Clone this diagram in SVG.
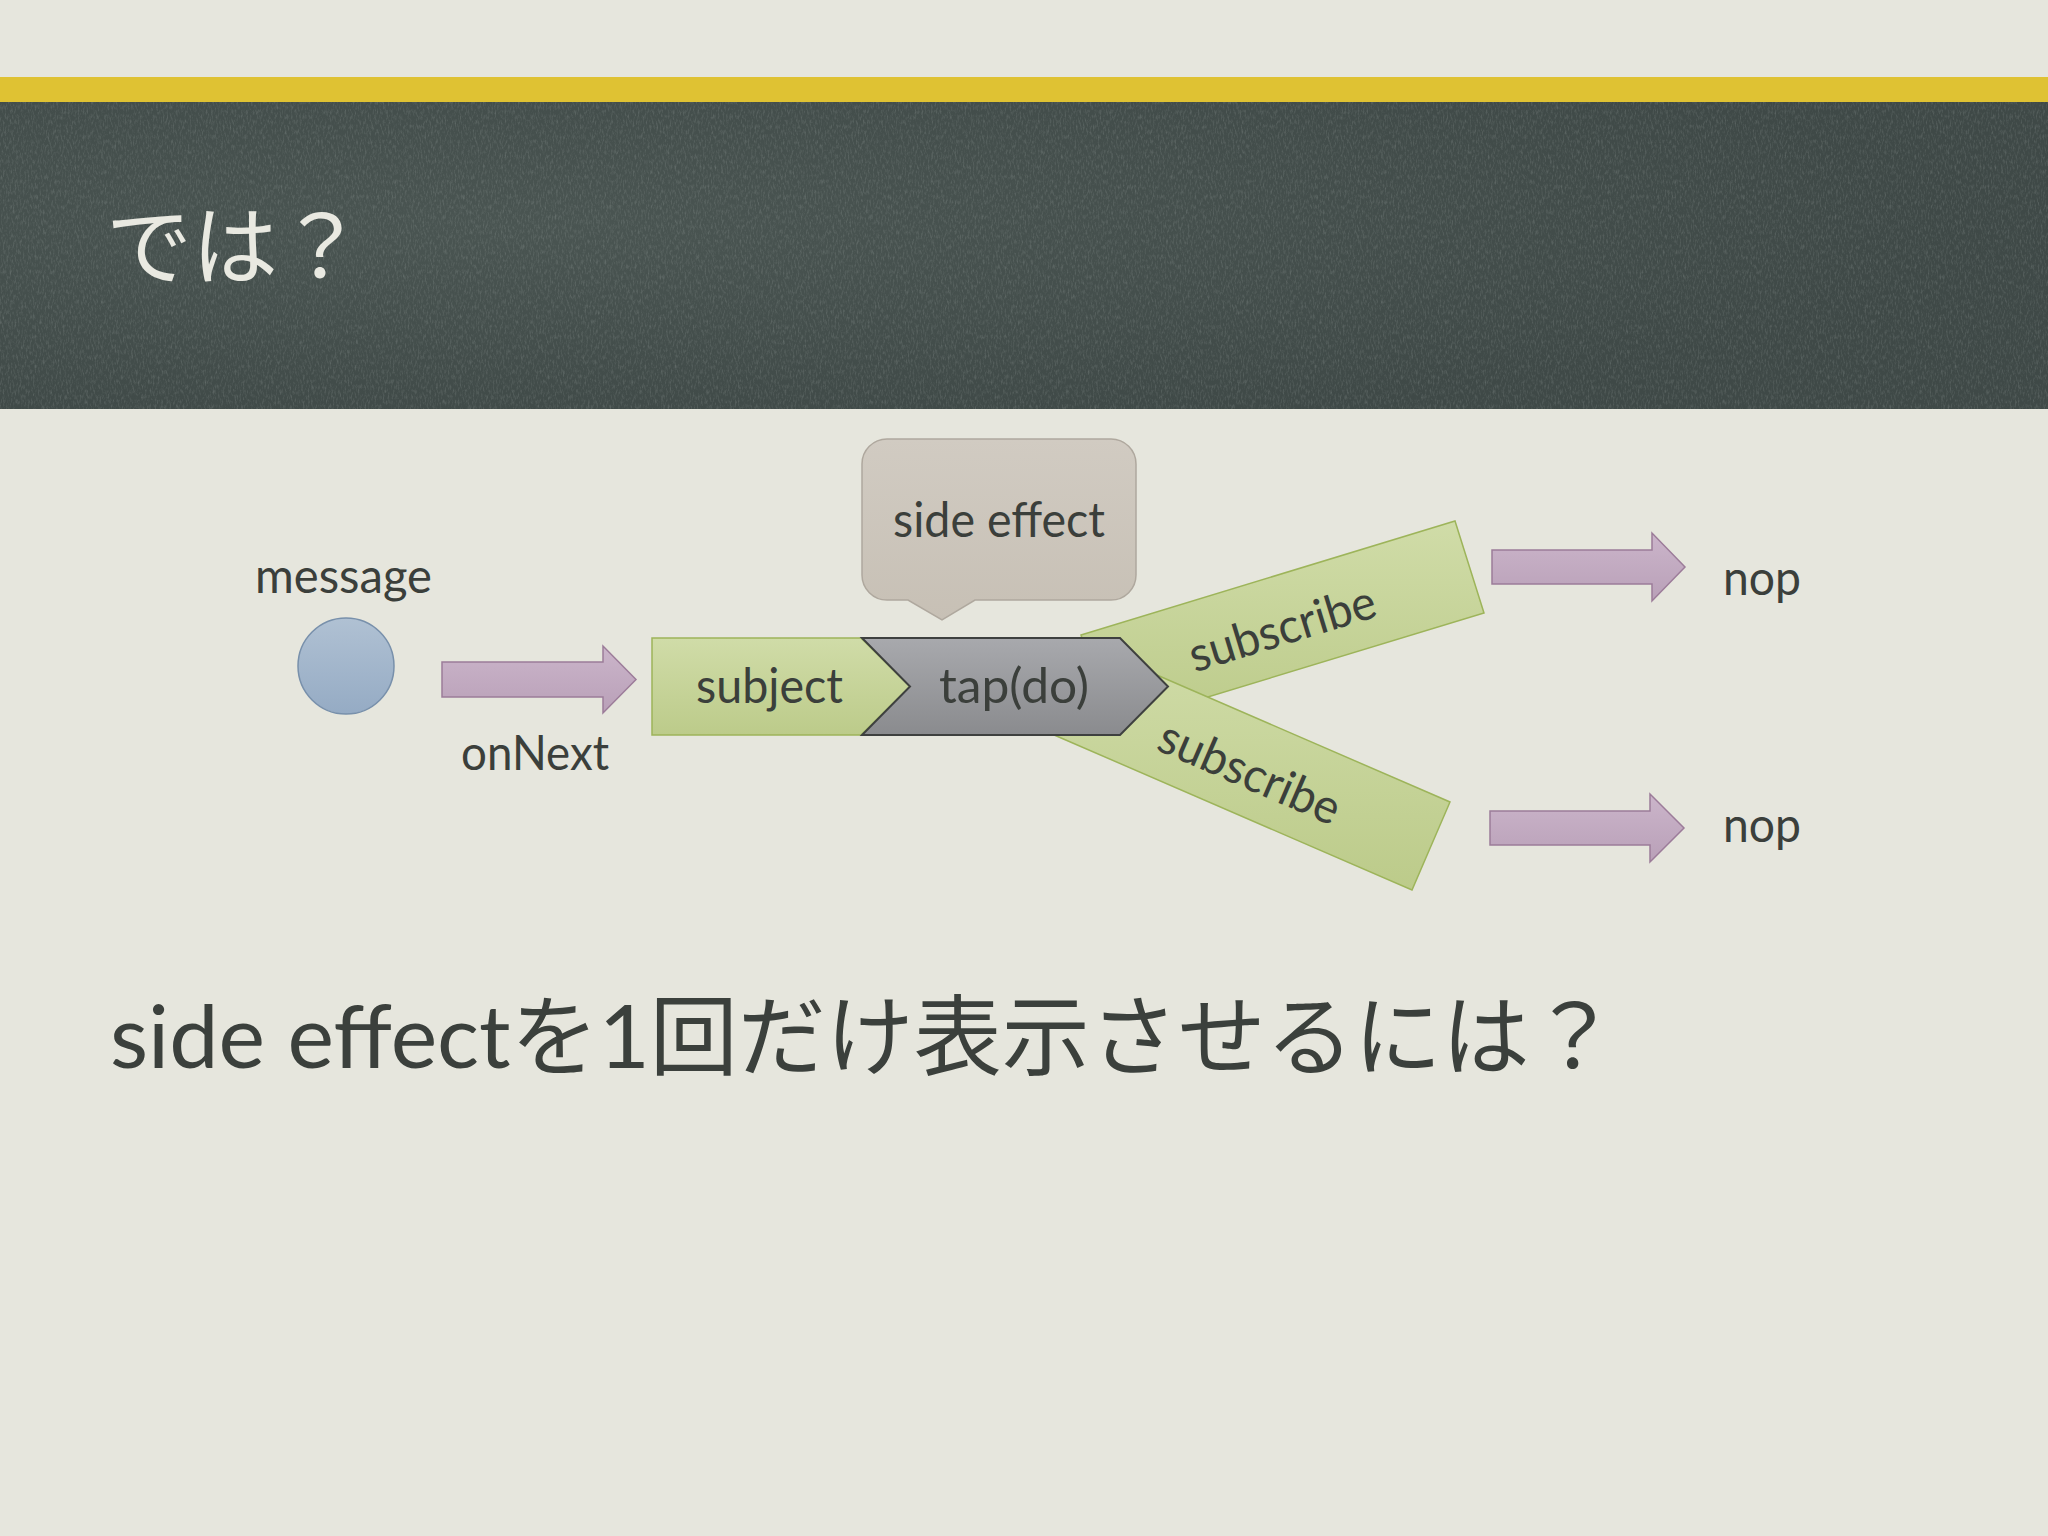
<svg xmlns="http://www.w3.org/2000/svg" width="2048" height="1536" viewBox="0 0 2048 1536">
<defs>
<style>
.lbl{font-family:Lato,"Noto Sans",sans-serif;font-size:48px;fill:#3b3f3b}
.pink{fill:url(#gPink);stroke:#9c7c99;stroke-width:1.5}
.green{fill:url(#gGreen);stroke:#9db45a;stroke-width:1.5}
</style>
<linearGradient id="gPink" x1="0" y1="0" x2="0" y2="1"><stop offset="0" stop-color="#cbb5ca"/><stop offset="1" stop-color="#b9a0b8"/></linearGradient>
<linearGradient id="gGreen" x1="0" y1="0" x2="0" y2="1"><stop offset="0" stop-color="#d0dca8"/><stop offset="1" stop-color="#bccb8a"/></linearGradient>
<linearGradient id="gGray" x1="0" y1="0" x2="0" y2="1"><stop offset="0" stop-color="#a8a9ad"/><stop offset="1" stop-color="#8a8b8e"/></linearGradient>
<linearGradient id="gCall" x1="0" y1="0" x2="0" y2="1"><stop offset="0" stop-color="#d1cbc2"/><stop offset="1" stop-color="#c7c0b5"/></linearGradient>
<linearGradient id="gBlue" x1="0" y1="0" x2="0" y2="1"><stop offset="0" stop-color="#b0c1d3"/><stop offset="1" stop-color="#95abc4"/></linearGradient>
<radialGradient id="gBoard" cx="0.25" cy="0.4" r="0.7"><stop offset="0" stop-color="#4a5552"/><stop offset="1" stop-color="#3f4947"/></radialGradient>
<filter id="chalk" x="0" y="0" width="100%" height="100%">
<feTurbulence type="fractalNoise" baseFrequency="0.6 0.2" numOctaves="3" seed="7"/>
<feColorMatrix type="matrix" values="0 0 0 0 0.85 0 0 0 0 0.9 0 0 0 0 0.88 1.1 0 0 0 -0.5"/>
</filter>
</defs>
<rect width="2048" height="1536" fill="#e6e6dd"/>
<g id="header">
<rect x="0" y="77" width="2048" height="25" fill="#dfc233"/>
<rect x="0" y="102" width="2048" height="307" fill="url(#gBoard)"/>
<rect x="0" y="102" width="2048" height="307" filter="url(#chalk)" opacity="0.3"/>
<text x="106" y="278" font-family="'Noto Sans CJK JP',sans-serif" font-size="86" fill="#e9e9e1">では？</text>
</g>
<g id="connectors">
<polygon class="pink" points="442,662 603,662 603,646 636,679.5 603,713 603,697 442,697"/>
<polygon class="pink" points="1492,550 1652,550 1652,533 1685,567 1652,601 1652,584 1492,584"/>
<polygon class="pink" points="1490,811 1650,811 1650,794 1684,828 1650,862 1650,845 1490,845"/>
</g>
<g id="message">
<circle cx="346" cy="666" r="48" fill="url(#gBlue)" stroke="#7890ab" stroke-width="1.5"/>
<text class="lbl" x="343.5" y="593" text-anchor="middle" textLength="177" lengthAdjust="spacingAndGlyphs">message</text>
</g>
<g id="onNext-label">
<text class="lbl" x="535" y="770" text-anchor="middle" textLength="148" lengthAdjust="spacingAndGlyphs">onNext</text>
</g>
<g id="subscribe-top">
<polygon class="green" points="1081,635 1455,521 1484,613 1109,727"/>
<text class="lbl" transform="translate(1282,628) rotate(-17)" x="0" y="17" text-anchor="middle" textLength="193" lengthAdjust="spacingAndGlyphs">subscribe</text>
</g>
<g id="subscribe-bottom">
<polygon class="green" points="1083,643 1450,802 1412,890 1045,731"/>
<text class="lbl" transform="translate(1250,772) rotate(23.4)" x="0" y="17" text-anchor="middle" textLength="193" lengthAdjust="spacingAndGlyphs">subscribe</text>
</g>
<g id="subject">
<polygon class="green" points="652,638 861,638 910,686.5 861,735 652,735"/>
<text class="lbl" x="769.5" y="703" text-anchor="middle" textLength="147" lengthAdjust="spacingAndGlyphs">subject</text>
</g>
<g id="tap">
<polygon points="862,638 1120,638 1168,686.5 1120,735 862,735 910,686.5" fill="url(#gGray)" stroke="#3e403f" stroke-width="2"/>
<text class="lbl" x="1014" y="703" text-anchor="middle" textLength="150" lengthAdjust="spacingAndGlyphs">tap(do)</text>
</g>
<g id="side-effect">
<path d="M887,439 H1111 A25,25 0 0 1 1136,464 V575 A25,25 0 0 1 1111,600 H975 L942,620 L908,600 H887 A25,25 0 0 1 862,575 V464 A25,25 0 0 1 887,439 Z" fill="url(#gCall)" stroke="#afa89e" stroke-width="1.5"/>
<text class="lbl" x="999" y="537" text-anchor="middle" textLength="212" lengthAdjust="spacingAndGlyphs">side effect</text>
</g>
<g id="nop-top">
<text class="lbl" x="1762" y="595" text-anchor="middle" textLength="78" lengthAdjust="spacingAndGlyphs">nop</text>
</g>
<g id="nop-bottom">
<text class="lbl" x="1762" y="842" text-anchor="middle" textLength="78" lengthAdjust="spacingAndGlyphs">nop</text>
</g>
<g id="question">
<text x="110" y="1068" font-family="Lato,'Noto Sans CJK JP',sans-serif" font-size="88" fill="#3b403c">side effectを1回だけ表示させるには？</text>
</g>
</svg>
